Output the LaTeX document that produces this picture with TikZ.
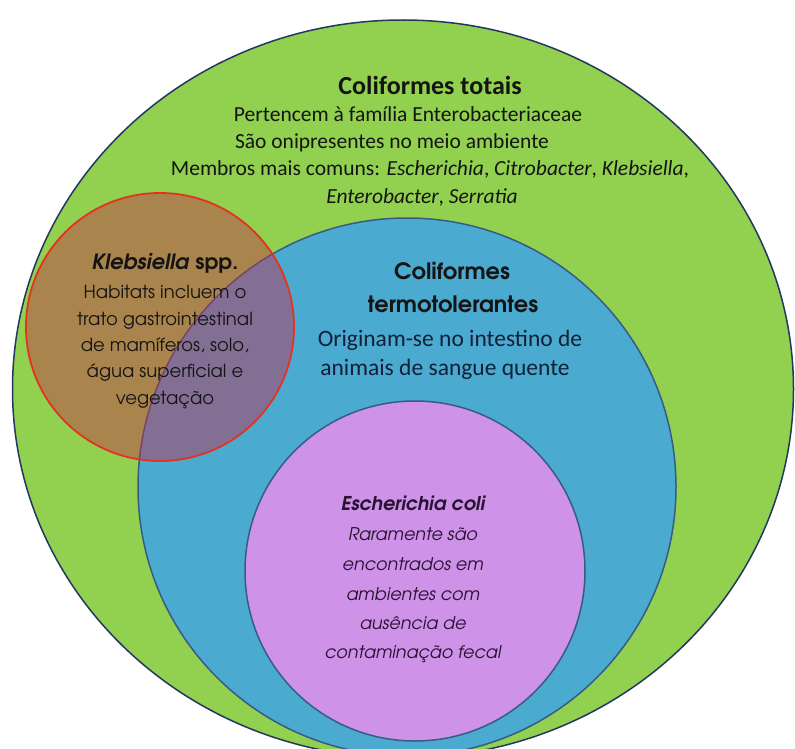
\documentclass[tikz,border=0pt]{standalone}
\usepackage{fontspec}
\setmainfont{Carlito}
\newfontfamily\geo{texgyreadventor}[Extension=.otf,UprightFont=*-regular,BoldFont=*-bold,ItalicFont=*-italic,BoldItalicFont=*-bolditalic]
\usetikzlibrary{shapes.geometric}
\definecolor{cgreen}{RGB}{146,208,80}
\definecolor{cblue}{RGB}{75,170,208}
\definecolor{cpurple}{RGB}{206,146,232}
\definecolor{cline}{RGB}{55,92,132}
\definecolor{couter}{RGB}{35,55,95}
\definecolor{cred}{RGB}{228,50,32}
\definecolor{cfill}{RGB}{200,40,75}
\definecolor{ctext}{RGB}{20,20,20}
\definecolor{cbtext}{RGB}{18,32,55}
\definecolor{cptext}{RGB}{40,18,50}
\begin{document}
\begin{tikzpicture}[x=1pt,y=-1pt,
  ring/.style={draw=cline, line width=1.5pt, inner sep=0pt},
  lbl/.style={inner sep=0pt, anchor=mid, text=ctext},
  cal/.style={lbl, font=\fontsize{21.5}{26}\selectfont},
  calb/.style={lbl, text=cbtext, font=\fontsize{23.5}{28}\selectfont},
  caltitle/.style={lbl, font=\fontsize{26}{30}\selectfont\bfseries},
  ktitle/.style={lbl, font=\geo\fontsize{21}{25}\selectfont\bfseries},
  gtitle/.style={lbl, font=\geo\fontsize{22.5}{26}\selectfont\bfseries},
  gbody/.style={lbl, font=\geo\fontsize{18}{22}\selectfont},
  ebody/.style={lbl, text=cptext, font=\geo\fontsize{17.5}{22}\selectfont\itshape},
  etitle/.style={lbl, text=cptext, font=\geo\fontsize{19}{24}\selectfont\bfseries\itshape}]
\useasboundingbox (0,0) rectangle (795,749);
\fill[white] (0,0) rectangle (795,749);
% circles
\node[ellipse, ring, draw=couter, fill=cgreen, minimum width=781pt, minimum height=738pt] (total) at (403,389) {};
\node[circle, ring, fill=cblue, minimum size=538pt] (termo) at (407,487) {};
\node[circle, ring, fill=cpurple, minimum size=340pt] (ecoli) at (415,571) {};
\node[circle, draw=cred, line width=1.8pt, fill=cfill, fill opacity=.45, minimum size=268pt, inner sep=0pt] (kleb) at (160,327) {};
% Coliformes totais
\node[caltitle] (t0) at (430,92) {Coliformes totais};
\node[cal] (t1) at (408,119) {Pertencem à família Enterobacteriaceae};
\node[cal] (t2) at (392,146) {São onipresentes no meio ambiente};
\node[cal] (t3) at (430,173) {Membros mais comuns: \textit{Escherichia}, \textit{Citrobacter}, \textit{Klebsiella},};
\node[cal] (t4) at (422,201) {\textit{Enterobacter}, \textit{Serratia}};
% Klebsiella
\node[ktitle] (k0) at (165,267) {\textit{Klebsiella} spp.};
\node[gbody] (k1) at (165,296) {Habitats incluem o};
\node[gbody] (k2) at (165,323) {trato gastrointestinal};
\node[gbody] (k3) at (165,349) {de mamíferos, solo,};
\node[gbody] (k4) at (165,375) {água superficial e};
\node[gbody] (k5) at (165,402) {vegetação};
% Termotolerantes
\node[gtitle] (m0) at (452,277) {Coliformes};
\node[gtitle] (m1) at (453,310) {termotolerantes};
\node[calb] (m2) at (450,344) {Originam-se no intestino de};
\node[calb] (m3) at (445,373) {animais de sangue quente};
% E. coli
\node[etitle] (e0) at (413,508) {Escherichia coli};
\node[ebody] (e1) at (413,538) {Raramente são};
\node[ebody] (e2) at (413,568) {encontrados em};
\node[ebody] (e3) at (413,598) {ambientes com};
\node[ebody] (e4) at (413,627) {ausência de};
\node[ebody] (e5) at (413,656) {contaminação fecal};
\end{tikzpicture}
\end{document}
